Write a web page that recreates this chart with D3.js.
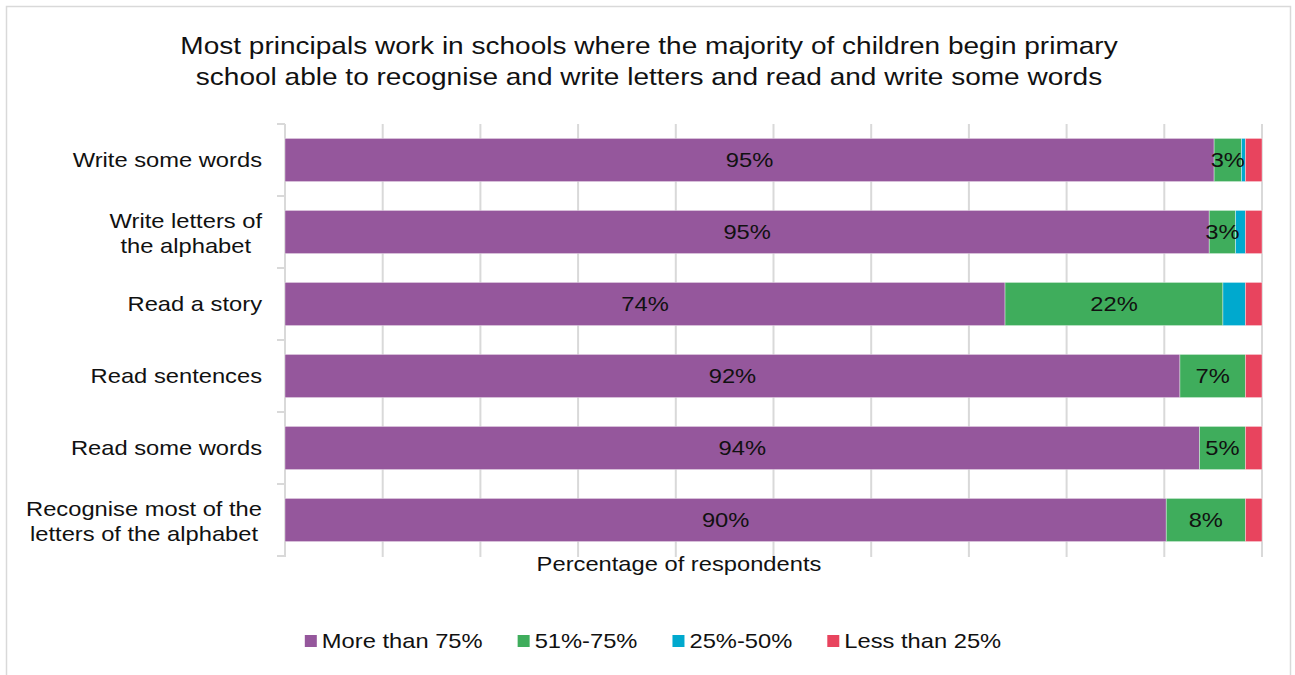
<!DOCTYPE html>
<html>
<head>
<meta charset="utf-8">
<script src="https://cdn.jsdelivr.net/npm/d3@7"></script>
<style>
  html, body { margin: 0; padding: 0; background: #fff; }
  svg { display: block; font-family: "Liberation Sans", Arial, sans-serif; }
</style>
</head>
<body>
<svg id="chart" width="1295" height="675"></svg>
<script>
// Survey categories (wrapped label lines separated by \n)
const categories = [
  "Write some words",
  "Write letters of\nthe alphabet",
  "Read a story",
  "Read sentences",
  "Read some words",
  "Recognise most of the\nletters of the alphabet"
];

// Share of respondents (%) per response band
const moreThan75 = [95.1, 94.6, 73.7, 91.6, 93.6, 90.2];
const from51to75 = [2.8, 2.7, 22.3, 6.7, 4.7, 8.1];
const from25to50 = [0.4, 1.0, 2.3, 0, 0, 0];
const lessThan25 = [1.7, 1.7, 1.7, 1.7, 1.7, 1.7];

const seriesNames = ["More than 75%", "51%-75%", "25%-50%", "Less than 25%"];
const seriesColors = ["#95579c", "#3fad5c", "#00a9ce", "#e8445e"];

const titleLines = [
  "Most principals work in schools where the majority of children begin primary",
  "school able to recognise and write letters and read and write some words"
];
const axisTitle = "Percentage of respondents";

// ---- layout ----
const plot = { left: 285, right: 1262, top: 124, bottom: 556 };
const STRETCH = 1.13;          // horizontal glyph stretch used for all text
const labelSize = 21;
const titleSize = 24.8;
const textColor = "#111";
const gridColor = "#d9d9d9";

const svg = d3.select("#chart");

// outer chart frame
svg.append("rect")
  .attr("x", 6.5).attr("y", 6.5)
  .attr("width", 1284).attr("height", 700)
  .attr("fill", "#fff")
  .attr("stroke", "#d9d9d9").attr("stroke-width", 1.5);

function stretchedText(parent, x, y, txt, size, anchor) {
  const g = parent.append("g").attr("transform", `translate(${x},${y}) scale(${STRETCH},1)`);
  return g.append("text")
    .attr("x", 0).attr("y", 0)
    .attr("text-anchor", anchor || "start")
    .attr("font-size", size)
    .attr("fill", textColor)
    .text(txt);
}

// title
titleLines.forEach((t, i) => {
  stretchedText(svg, 649, 54 + i * 31, t, titleSize, "middle");
});

// scales
const x = d3.scaleLinear().domain([0, 100]).range([plot.left, plot.right]);
const y = d3.scaleBand().domain(d3.range(categories.length))
  .range([plot.top, plot.bottom]).paddingInner(0.4).paddingOuter(0.2);

// vertical gridlines
svg.append("g").selectAll("line")
  .data(x.ticks(10))
  .join("line")
  .attr("x1", d => x(d)).attr("x2", d => x(d))
  .attr("y1", plot.top).attr("y2", plot.bottom + 1)
  .attr("stroke", gridColor).attr("stroke-width", 2);

// category axis with tick marks between categories
const axisG = svg.append("g");
axisG.append("line")
  .attr("x1", plot.left).attr("x2", plot.left)
  .attr("y1", plot.top).attr("y2", plot.bottom)
  .attr("stroke", gridColor).attr("stroke-width", 2);
axisG.selectAll("line.tick")
  .data(d3.range(categories.length + 1))
  .join("line")
  .attr("class", "tick")
  .attr("x1", plot.left - 8).attr("x2", plot.left)
  .attr("y1", d => plot.top + d * y.step())
  .attr("y2", d => plot.top + d * y.step())
  .attr("stroke", gridColor).attr("stroke-width", 2);

// stacked series
const rows = categories.map((c, i) => ({
  idx: i,
  values: [moreThan75[i], from51to75[i], from25to50[i], lessThan25[i]]
}));
const keys = [0, 1, 2, 3];
const stack = d3.stack().keys(keys).value((d, k) => d.values[k]);
const stacked = stack(rows);

const fmt = d => d3.format(".0f")(d) + "%";

const barsG = svg.append("g");
stacked.forEach((layer, li) => {
  barsG.append("g").selectAll("rect")
    .data(layer)
    .join("rect")
    .attr("x", d => x(d[0]))
    .attr("y", d => y(d.data.idx))
    .attr("width", d => Math.max(0, x(d[1]) - x(d[0])))
    .attr("height", y.bandwidth())
    .attr("fill", seriesColors[li])
    .attr("stroke", "#fff").attr("stroke-opacity", 0.5).attr("stroke-width", 0.75);
});

// value labels for the two larger bands
const labelG = svg.append("g");
stacked.forEach((layer, li) => {
  layer.forEach(d => {
    const v = d[1] - d[0];
    if (v < 2.5) return;
    stretchedText(labelG, (x(d[0]) + x(d[1])) / 2,
      y(d.data.idx) + y.bandwidth() / 2 + 0.35 * labelSize,
      fmt(v), labelSize, "middle");
  });
});

// category labels (right-aligned block, lines centered within block)
const catG = svg.append("g");
const lineH = 24.5;
categories.forEach((c, i) => {
  const lines = c.split("\n");
  const probe = lines.map(l => {
    const t = stretchedText(catG, 0, 0, l, labelSize, "middle");
    const w = t.node().getComputedTextLength() * STRETCH;
    t.node().parentNode.remove();
    return w;
  });
  const blockW = d3.max(probe);
  const cx = 262 - blockW / 2;
  const cy = y(i) + y.bandwidth() / 2 + (lines.length > 1 ? 1 : 0);
  lines.forEach((l, j) => {
    const by = cy - (lines.length - 1) * lineH / 2 + j * lineH + 0.35 * labelSize;
    stretchedText(catG, cx, by, l, labelSize, "middle");
  });
});

// axis title
stretchedText(svg, 679, 571, axisTitle, labelSize, "middle");

// legend
const legendG = svg.append("g");
const sq = 12, gapText = 5, gapItem = 35;
const items = seriesNames.map((n, i) => {
  const t = stretchedText(legendG, 0, 0, n, labelSize, "start");
  const w = t.node().getComputedTextLength() * STRETCH;
  t.node().parentNode.remove();
  return { name: n, color: seriesColors[i], w };
});
const totalW = d3.sum(items, d => sq + gapText + d.w) + gapItem * (items.length - 1);
let lx = 653 - totalW / 2;
const ly = 641;
items.forEach(it => {
  legendG.append("rect")
    .attr("x", lx).attr("y", ly - sq / 2)
    .attr("width", sq).attr("height", sq)
    .attr("fill", it.color);
  stretchedText(legendG, lx + sq + gapText, ly + 0.35 * labelSize, it.name, labelSize, "start");
  lx += sq + gapText + it.w + gapItem;
});
</script>
</body>
</html>
